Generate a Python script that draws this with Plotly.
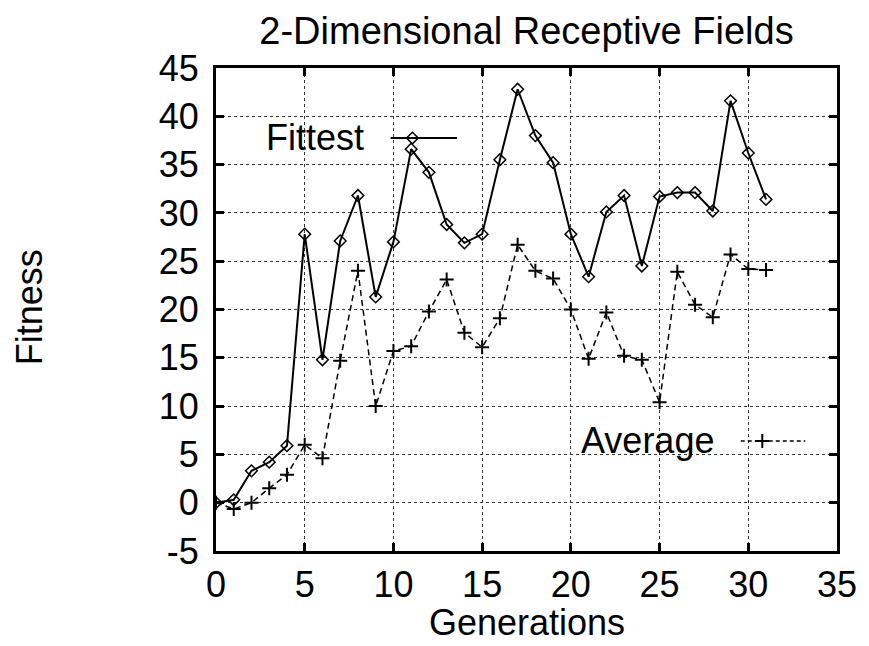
import plotly.graph_objects as go

generations = list(range(32))
fittest = [0.0, 0.3, 3.3, 4.2, 5.9, 27.8, 14.8, 27.1, 31.8, 21.3, 27.0, 36.6, 34.2, 28.8,
           26.9, 27.8, 35.5, 42.8, 38.0, 35.2, 27.8, 23.4, 30.1, 31.8, 24.5, 31.7, 32.1,
           32.1, 30.2, 41.6, 36.2, 31.4]
average = [0.0, -0.65, 0.0, 1.5, 2.9, 6.0, 4.6, 14.7, 24.0, 10.0, 15.7, 16.2, 19.8, 23.1,
           17.6, 16.1, 19.1, 26.7, 24.0, 23.2, 20.0, 14.9, 19.7, 15.2, 14.8, 10.4, 23.9,
           20.5, 19.2, 25.7, 24.2, 24.1]

x_ticks = [0, 5, 10, 15, 20, 25, 30, 35]
y_ticks = [-5, 0, 5, 10, 15, 20, 25, 30, 35, 40, 45]

title_text = "2-Dimensional Receptive Fields"
x_label = "Generations"
y_label = "Fitness"
series_names = ["Fittest", "Average"]

FONT = "Liberation Sans, Arial, Helvetica, sans-serif"
FS = 36

fig = go.Figure()
fig.add_trace(go.Scatter(
    x=generations, y=fittest, mode="lines+markers", name=series_names[0],
    line=dict(color="black", width=2),
    marker=dict(symbol="diamond-open", size=9, color="black", line=dict(width=1.5, color="black")),
    showlegend=False))
fig.add_trace(go.Scatter(
    x=generations, y=average, mode="lines+markers", name=series_names[1],
    line=dict(color="black", width=1.5, dash="6px,4px"),
    marker=dict(symbol="cross-thin-open", size=10, color="black", line=dict(width=2, color="black")),
    showlegend=False))

# Legend samples on a hidden overlay axis in [0,1] units
fig.add_trace(go.Scatter(x=[0.2812, 0.3882], y=[0.855, 0.855], mode="lines", xaxis="x2", yaxis="y2",
                         line=dict(color="black", width=2), showlegend=False, hoverinfo="skip"))
fig.add_trace(go.Scatter(x=[0.3163], y=[0.855], mode="markers", xaxis="x2", yaxis="y2",
                         marker=dict(symbol="diamond-open", size=9, color="black", line=dict(width=1.5, color="black")),
                         showlegend=False, hoverinfo="skip"))
fig.add_trace(go.Scatter(x=[0.845, 0.9489], y=[0.2277, 0.2277], mode="lines", xaxis="x2", yaxis="y2",
                         line=dict(color="black", width=1.5, dash="4px,3px"), showlegend=False, hoverinfo="skip"))
fig.add_trace(go.Scatter(x=[0.8797], y=[0.2277], mode="markers", xaxis="x2", yaxis="y2",
                         marker=dict(symbol="cross-thin-open", size=10, color="black", line=dict(width=2, color="black")),
                         showlegend=False, hoverinfo="skip"))

axis_common = dict(
    showline=True, linecolor="black", linewidth=3, mirror="ticks",
    ticks="inside", ticklen=8, tickwidth=3, tickcolor="black",
    showgrid=True, gridcolor="#333333", gridwidth=1, griddash="dot",
    zeroline=False, tickfont=dict(family=FONT, size=FS, color="black"),
)

fig.update_layout(
    width=869, height=646,
    margin=dict(l=216, r=27, t=68, b=95),
    paper_bgcolor="white", plot_bgcolor="white",
    font=dict(family=FONT, size=FS, color="black"),
    title=dict(text=title_text, x=0.5, xanchor="center", xref="paper",
               y=1 - 31 / 646, yanchor="middle", yref="container",
               font=dict(family=FONT, size=38, color="black")),
    xaxis=dict(range=[0, 35], tickvals=x_ticks, ticktext=[str(v) for v in x_ticks],
               ticklabelstandoff=0, **axis_common),
    yaxis=dict(range=[-5, 45], tickvals=y_ticks, ticktext=[str(v) for v in y_ticks],
               ticklabelstandoff=7, **axis_common),
    xaxis2=dict(range=[0, 1], overlaying="x", visible=False, fixedrange=True),
    yaxis2=dict(range=[0, 1], overlaying="y", visible=False, fixedrange=True),
    showlegend=False,
    annotations=[
        dict(text=x_label, xref="paper", yref="paper", x=0.5, y=-0.147, xanchor="center", yanchor="middle",
             showarrow=False, font=dict(family=FONT, size=FS, color="black")),
        dict(text=y_label, xref="paper", yref="paper", x=-0.30, y=0.504, xanchor="center", yanchor="middle",
             textangle=-90, showarrow=False, font=dict(family=FONT, size=FS, color="black")),
        dict(text=series_names[0], xref="paper", yref="paper", x=0.2412, y=0.857, xanchor="right", yanchor="middle",
             showarrow=False, font=dict(family=FONT, size=FS, color="black")),
        dict(text=series_names[1], xref="paper", yref="paper", x=0.8051, y=0.2298, xanchor="right", yanchor="middle",
             showarrow=False, font=dict(family=FONT, size=FS, color="black")),
    ],
)

fig.write_html("out.html")
